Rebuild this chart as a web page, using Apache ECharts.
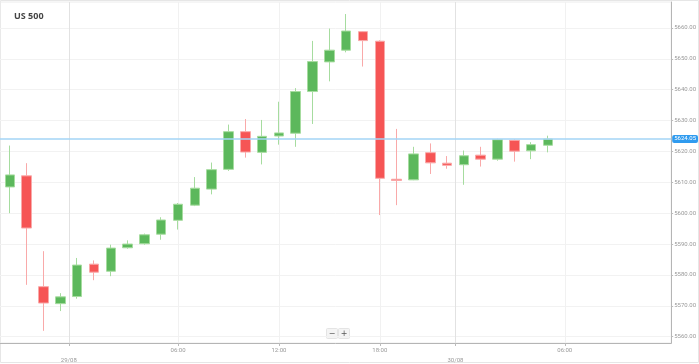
<!DOCTYPE html>
<html>
<head>
<meta charset="utf-8">
<script src="https://cdn.jsdelivr.net/npm/echarts@6/dist/echarts.min.js"></script>
<style>html,body{margin:0;padding:0;background:#fff}#c{width:699px;height:364px}</style>
</head>
<body>
<div id="c"></div>
<script>
// Hourly candles (index 0..32)
const openV  = [5608.5,5612.1,5576.2,5570.7,5573.0,5583.5,5581.2,5588.8,5590.1,5593.2,5597.7,5602.6,5607.8,5614.2,5626.4,5619.7,5625.0,5625.9,5639.4,5649.0,5652.8,5658.8,5655.7,5611.0,5610.8,5619.6,5616.2,5615.7,5618.8,5617.5,5623.6,5620.2,5622.0];
const closeV = [5612.4,5595.2,5570.9,5572.9,5583.2,5580.9,5588.7,5590.0,5593.0,5597.8,5602.9,5608.1,5614.1,5626.4,5619.8,5624.9,5626.0,5639.4,5649.1,5652.8,5659.0,5655.9,5611.3,5610.6,5619.2,5616.3,5615.5,5618.6,5617.5,5623.8,5620.1,5622.2,5624.0];
const lowV   = [5600.0,5576.8,5561.9,5568.3,5572.3,5578.3,5579.6,5588.5,5589.8,5591.4,5594.7,5602.3,5606.1,5613.7,5618.0,5615.8,5622.2,5621.5,5628.9,5642.7,5652.1,5647.5,5599.4,5602.6,5610.7,5612.7,5614.4,5609.2,5615.1,5617.0,5616.7,5617.5,5619.7];
const highV  = [5621.9,5616.2,5587.7,5574.1,5585.5,5584.7,5589.8,5591.2,5593.4,5598.7,5603.3,5611.7,5616.4,5628.7,5630.5,5630.2,5636.1,5640.5,5655.8,5659.8,5664.5,5659.0,5656.0,5627.3,5621.5,5622.6,5618.5,5620.3,5621.5,5624.1,5623.9,5623.0,5625.1];
const currentPrice = 5624.05;
const xTickPos    = [3.5, 10, 16, 22, 26.5, 33];
const xTickLabels = ['29/08', '06:00', '12:00', '18:00', '30/08', '06:00'];
const xTickIsDate = [true, false, false, false, true, false];
const yTicks = [5560,5570,5580,5590,5600,5610,5620,5630,5640,5650,5660];

const candles = openV.map((o, i) => [i, o, closeV[i], lowV[i], highV[i]]);

const chart = echarts.init(document.getElementById('c'), null, {renderer: 'canvas'});
chart.setOption({
  animation: false,
  backgroundColor: '#fff',
  title: {
    text: 'US 500', left: 9, top: 7,
    textStyle: {fontSize: 9, fontWeight: 'bold', color: '#444', fontFamily: 'Open Sans'}
  },
  grid: {left: 0, right: 24, top: 2, bottom: 21, show: true, borderColor: '#ececec', borderWidth: 1},
  xAxis: {
    type: 'value', min: -0.59, max: 39.33,
    axisLine: {show: true, onZero: false, lineStyle: {color: '#b5b5b5', width: 1}},
    axisTick: {show: true, customValues: xTickPos, length: 3, lineStyle: {color: '#bbb'}},
    axisLabel: {
      customValues: xTickPos, fontSize: 6, color: '#999', fontFamily: 'Roboto', margin: 4,
      formatter: function (v) {
        const k = xTickPos.findIndex(p => Math.abs(p - v) < 1e-6);
        if (k < 0) return '';
        return xTickIsDate[k] ? '{d|' + xTickLabels[k] + '}' : xTickLabels[k];
      },
      rich: {d: {fontSize: 6, color: '#999', fontFamily: 'Roboto', padding: [10, 0, 0, 0]}}
    },
    splitLine: {show: true, lineStyle: {color: ['#e2e2e2', '#f1f1f1', '#f1f1f1', '#f1f1f1', '#e2e2e2', '#f1f1f1'], width: 1}}
  },
  yAxis: {
    type: 'value', position: 'right', min: 5557.96, max: 5668.4, scale: true,
    axisLine: {show: true, onZero: false, lineStyle: {color: '#b5b5b5', width: 1}},
    axisTick: {show: true, customValues: yTicks, length: 2, lineStyle: {color: '#bbb'}},
    axisLabel: {customValues: yTicks, fontSize: 6, color: '#999', fontFamily: 'Roboto', margin: 3,
      formatter: v => v.toFixed(2)},
    splitLine: {show: true, lineStyle: {color: '#f2f2f2', width: 1}}
  },
  series: [{
    type: 'candlestick',
    data: candles,
    encode: {x: 0, y: [1, 2, 3, 4]},
    barWidth: 10,
    itemStyle: {
      color: '#5cb85c', color0: '#f65555',
      borderColor: '#a6dc9f', borderColor0: '#f9a9a9', borderWidth: 1
    },
    markLine: {
      silent: true, symbol: ['none', 'none'],
      lineStyle: {color: '#a3d5f6', type: 'solid', width: 1.5},
      label: {position: 'end', distance: 1, formatter: () => currentPrice.toFixed(2),
        backgroundColor: '#2f9bef', color: '#fff', fontSize: 6, fontFamily: 'Roboto',
        padding: [1, 2, 1, 2], borderRadius: 2},
      data: [{yAxis: currentPrice}]
    }
  }],
  graphic: [
    {type: 'rect', shape: {x: 0.5, y: 0.5, width: 698, height: 362}, style: {fill: 'none', stroke: '#e6e6e6', lineWidth: 1}, silent: true, z: -1},
    {type: 'group', left: 326, top: 328, children: [
      {type: 'rect', shape: {x: 0, y: 0, width: 11, height: 10, r: 1}, style: {fill: '#f4f4f4', stroke: '#e4e4e4'}},
      {type: 'text', x: 5.5, y: 5, style: {text: '−', fontSize: 8, fill: '#555', align: 'center', verticalAlign: 'middle', fontFamily: 'DejaVu Sans'}},
      {type: 'rect', shape: {x: 12, y: 0, width: 11, height: 10, r: 1}, style: {fill: '#f4f4f4', stroke: '#e4e4e4'}},
      {type: 'text', x: 17.5, y: 5, style: {text: '+', fontSize: 8, fill: '#555', align: 'center', verticalAlign: 'middle', fontFamily: 'DejaVu Sans'}}
    ]}
  ]
});
</script>
</body>
</html>
